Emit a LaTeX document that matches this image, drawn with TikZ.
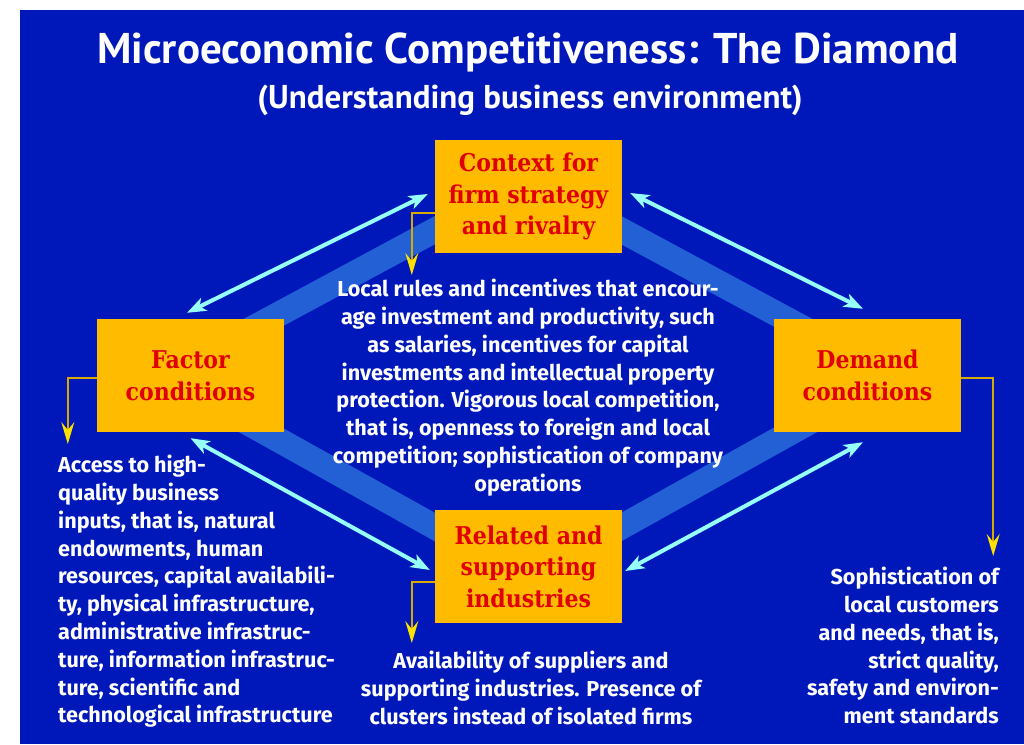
\documentclass[tikz,border=0pt]{standalone}
\usepackage{fontspec}
\setmainfont{PT Sans}
\newfontfamily\notefont{Fira Sans}
\newfontfamily\slabfont{DejaVu Serif Condensed}
\usepackage{xcolor}
\usepackage{tikz}
\usetikzlibrary{arrows.meta}

\definecolor{deepblue}{RGB}{0,24,186}
\definecolor{bandblue}{RGB}{35,96,214}
\definecolor{boxgold}{RGB}{255,187,0}
\definecolor{labelred}{RGB}{225,0,0}
\definecolor{linkcyan}{RGB}{150,255,250}
\definecolor{feedgold}{RGB}{215,170,0}
\definecolor{feedyellow}{RGB}{255,225,0}

\tikzset{
  forcebox/.style={fill=boxgold, minimum width=187pt, minimum height=113pt,
    inner sep=0pt, text=labelred, align=center,
    font=\slabfont\bfseries\fontsize{24.5}{31.5}\selectfont},
  note/.style={text=white, inner sep=0pt, font=\notefont\bfseries\fontsize{21.6}{27.8}\selectfont},
  link/.style={draw=linkcyan, line width=4pt,
    {Stealth[length=19pt,width=14pt,inset=5pt]}-{Stealth[length=19pt,width=14pt,inset=5pt]}},
  feed/.style={draw=feedgold, line width=1.5pt,
    -{Stealth[length=22pt,width=13pt,inset=8pt,color=feedyellow]}}
}

\begin{document}
\begin{tikzpicture}[x=1pt,y=-1pt]
  \useasboundingbox (0,0) rectangle (1024,744);
  \fill[white] (0,0) rectangle (1024,744);
  \fill[deepblue] (20,10) rectangle (1024,744);

  \node[text=white, anchor=base, font=\bfseries\fontsize{43}{50}\selectfont] (title) at (528,63)
    {Microeconomic Competitiveness: The Diamond};
  \node[text=white, anchor=base, font=\bfseries\fontsize{33}{40}\selectfont] (subtitle) at (530,108)
    {(Understanding business environment)};

  % the diamond behind the four boxes
  \draw[bandblue, line width=25pt] (528,180) -- (164,376) -- (528,579) -- (892,376) -- cycle;

  \node[forcebox] (ctx) at (528.5,196.5) {Context for\\firm strategy\\and rivalry};
  \node[forcebox] (fac) at (190.5,375.5) {Factor\\conditions};
  \node[forcebox] (dem) at (867.5,375.5) {Demand\\conditions};
  \node[forcebox] (rel) at (528.5,566.5) {Related and\\supporting\\industries};

  \node[note, anchor=north, align=center] (ctxnote) at (528,279)
    {Local rules and incentives that encour-\\
     age investment and productivity, such\\
     as salaries, incentives for capital\\
     investments and intellectual property\\
     protection. Vigorous local competition,\\
     that is, openness to foreign and local\\
     competition; sophistication of company\\
     operations};
  \node[note, anchor=north west, align=left] (facnote) at (58,455)
    {Access to high-\\
     quality business\\
     inputs, that is, natural\\
     endowments, human\\
     resources, capital availabili-\\
     ty, physical infrastructure,\\
     administrative infrastruc-\\
     ture, information infrastruc-\\
     ture, scientific and\\
     technological infrastructure};
  \node[note, anchor=north, align=center] (relnote) at (531,651)
    {Availability of suppliers and\\
     supporting industries. Presence of\\
     clusters instead of isolated firms};
  \node[note, anchor=north east, align=right] (demnote) at (999,567)
    {Sophistication of\\
     local customers\\
     and needs, that is,\\
     strict quality,\\
     safety and environ-\\
     ment standards};

  \draw[link] ([shift={(-3.5,-6)}]fac.north) -- ([shift={(-7,-2.5)}]ctx.west);
  \draw[link] ([shift={(8,-3.5)}]ctx.east) -- ([shift={(-4.5,-10)}]dem.north);
  \draw[link] ([shift={(-4.5,10)}]dem.south) -- ([shift={(3,4.5)}]rel.east);
  \draw[link] ([shift={(-5,3.5)}]rel.west) -- ([shift={(0,6)}]fac.south);

  \draw[feed] ([shift={(0,16.5)}]ctx.west) -| ++(-23,62);
  \draw[feed] ([shift={(0,2.5)}]fac.west) -| ++(-29,66);
  \draw[feed] ([shift={(0,15.5)}]rel.west) -| ++(-23,61);
  \draw[feed] ([shift={(0,2.5)}]dem.east) -| ++(32,178);
\end{tikzpicture}
\end{document}
